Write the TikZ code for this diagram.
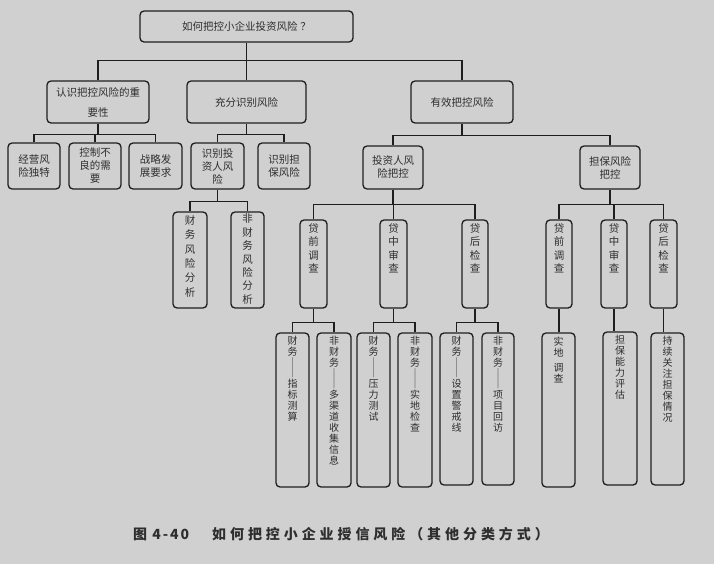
\documentclass[tikz,border=0pt]{standalone}
\usepackage{fontspec}
\setmainfont{Noto Sans CJK SC}
\newfontfamily\capfont[LetterSpace=28]{Noto Sans CJK SC}
\newfontfamily\capnumfont[LetterSpace=14]{Noto Sans CJK SC}
\definecolor{bg}{HTML}{D0D0D0}
\definecolor{ln}{HTML}{1E1E1E}
\definecolor{tx}{HTML}{2E2E2E}
\tikzset{
 box/.style={draw=ln, line width=1.3pt, rounded corners=4pt, inner sep=0pt},
 conn/.style={draw=ln, line width=1.3pt},
 lbl/.style={text=tx, align=center, inner sep=0pt, font=\fontsize{10.5}{13}\selectfont},
 vlbl/.style={text=tx, align=center, inner sep=0pt, font=\fontsize{10.5}{13.4}\selectfont, anchor=north},
 dlbl/.style={text=tx, align=center, inner sep=0pt, font=\fontsize{10}{11}\selectfont, anchor=north},
 captxt/.style={text=tx, inner sep=0pt, anchor=west, font=\capfont\bfseries\fontsize{14}{16}\selectfont},
}
\newcommand\bx[5]{\node[box, minimum width={#4pt-#2pt}, minimum height={#5pt-#3pt}] (#1) at ({(#2+#4)/2},{(#3+#5)/2}) {};}
\newcommand\vdashline{│\\[-1pt]│}
\begin{document}
\begin{tikzpicture}[x=1pt,y=-1pt]
\fill[bg] (0,0) rectangle (714,564);
% boxes
\bx{top}{140}{11}{353}{42}
\bx{a1}{47}{81}{149}{123}
\bx{a2}{187}{81}{306}{123}
\bx{a3}{411}{81}{513}{123}
\bx{b1}{8}{143}{60}{189}
\bx{b2}{69}{143}{121}{189}
\bx{b3}{129}{143}{182}{189}
\bx{b4}{191}{143}{244}{189}
\bx{b5}{258}{143}{310}{189}
\bx{b6}{363}{146}{423}{189}
\bx{b7}{580}{146}{640}{189}
\bx{c1}{173}{212}{207}{308}
\bx{c2}{231}{212}{264}{308}
\bx{c3}{300}{220}{327}{308}
\bx{c4}{380}{220}{407}{308}
\bx{c5}{462}{220}{488}{308}
\bx{c6}{546}{220}{572}{308}
\bx{c7}{601}{220}{627}{308}
\bx{c8}{650}{220}{677}{308}
\bx{d1}{276}{333}{309}{487}
\bx{d2}{317}{333}{351}{487}
\bx{d3}{357}{333}{390}{487}
\bx{d4}{398}{333}{432}{487}
\bx{d5}{440}{333}{473}{485}
\bx{d6}{482}{333}{514}{485}
\bx{d7}{542}{333}{575}{487}
\bx{d8}{603}{332}{637}{485}
\bx{d9}{651}{333}{684}{485}
% texts
\node[lbl] at (top) {如何把控小企业投资风险\hspace{3pt}？};
\node[lbl, font=\fontsize{10.5}{20}\selectfont] at (a1) {认识把控风险的重\\要性};
\node[lbl] at (a2) {充分识别风险};
\node[lbl] at (a3) {有效把控风险};
\node[lbl] at (b1) {经营风\\险独特};
\node[lbl] at (b2) {控制不\\良的需\\要};
\node[lbl] at (b3) {战略发\\展要求};
\node[lbl] at (b4) {识别投\\资人风\\险};
\node[lbl] at (b5) {识别担\\保风险};
\node[lbl] at (b6) {投资人风\\险把控};
\node[lbl] at (b7) {担保风险\\把控};
\node[vlbl, font=\fontsize{10.5}{14.4}\selectfont] at ([yshift=-4pt]c1.north) {财\\务\\风\\险\\分\\析};
\node[vlbl] at ([yshift=-2.5pt]c2.north) {非\\财\\务\\风\\险\\分\\析};
\node[vlbl, font=\fontsize{10.5}{13.3}\selectfont] at ([yshift=-4pt]c3.north) {贷\\前\\调\\查};
\node[vlbl, font=\fontsize{10.5}{13.3}\selectfont] at ([yshift=-4pt]c4.north) {贷\\中\\审\\查};
\node[vlbl, font=\fontsize{10.5}{13.3}\selectfont] at ([yshift=-4pt]c5.north) {贷\\后\\检\\查};
\node[vlbl, font=\fontsize{10.5}{13.3}\selectfont] at ([yshift=-4pt]c6.north) {贷\\前\\调\\查};
\node[vlbl, font=\fontsize{10.5}{13.3}\selectfont] at ([yshift=-4pt]c7.north) {贷\\中\\审\\查};
\node[vlbl, font=\fontsize{10.5}{13.3}\selectfont] at ([yshift=-4pt]c8.north) {贷\\后\\检\\查};
\node[dlbl] at ([yshift=-4pt]d1.north) {财\\务\\\vdashline\\指\\标\\测\\算};
\node[dlbl] at ([yshift=-4pt]d2.north) {非\\财\\务\\\vdashline\\多\\渠\\道\\收\\集\\信\\息};
\node[dlbl] at ([yshift=-4pt]d3.north) {财\\务\\\vdashline\\压\\力\\测\\试};
\node[dlbl] at ([yshift=-4pt]d4.north) {非\\财\\务\\\vdashline\\实\\地\\检\\查};
\node[dlbl] at ([yshift=-4pt]d5.north) {财\\务\\\vdashline\\设\\置\\警\\戒\\线};
\node[dlbl] at ([yshift=-4pt]d6.north) {非\\财\\务\\\vdashline\\项\\目\\回\\访};
\node[dlbl] at ([yshift=-4pt]d7.north) {实\\地\\[4pt]调\\查};
\node[dlbl] at ([yshift=-4pt]d8.north) {担\\保\\能\\力\\评\\估};
\node[dlbl] at ([yshift=-4pt]d9.north) {持\\续\\关\\注\\担\\保\\情\\况};
% connectors
\draw[conn] (top.south) -- (a2.north);
\draw[conn] (a1.north) -- ++(0,-20) -| (a3.north);
\draw[conn] (a1.south) -- ++(0,11) -| (b1.north);
\draw[conn] (a1.south) ++(0,11) -| (b2.north);
\draw[conn] (a1.south) ++(0,11) -| (b3.north);
\draw[conn] (a2.south) -- ++(0,11) -| (b4.north);
\draw[conn] (a2.south) ++(0,11) -| (b5.north);
\draw[conn] (a3.south) -- ++(0,12) -| (b6.north);
\draw[conn] (a3.south) ++(0,12) -| (b7.north);
\draw[conn] (b4.south) -- ++(0,12) -| (c1.north);
\draw[conn] (b4.south) ++(0,12) -| (c2.north);
\draw[conn] (b6.south) -- ++(0,15) -| (c3.north);
\draw[conn] (b6.south) ++(0,15) -| (c4.north);
\draw[conn] (b6.south) ++(0,15) -| (c5.north);
\draw[conn] (b7.south) -- ++(0,15) -| (c6.north);
\draw[conn] (b7.south) ++(0,15) -| (c7.north);
\draw[conn] (b7.south) ++(0,15) -| (c8.north);
\draw[conn] (c3.south) -- ++(0,14) -| (d1.north);
\draw[conn] (c3.south) ++(0,14) -| (d2.north);
\draw[conn] (c4.south) -- ++(0,14) -| (d3.north);
\draw[conn] (c4.south) ++(0,14) -| (d4.north);
\draw[conn] (c5.south) -- ++(0,14) -| (d5.north);
\draw[conn] (c5.south) ++(0,14) -| (d6.north);
\draw[conn] (c6.south) -- (c6.south |- d7.north);
\draw[conn] (c7.south) -- (c7.south |- d8.north);
\draw[conn] (c8.south) -- (c8.south |- d9.north);
% caption
\node[captxt, font=\capnumfont\bfseries\fontsize{14}{16}\selectfont] (capnum) at (133,534) {图 4-40};
\node[captxt] (captext) at (212,534) {如何把控小企业授信风险（其他分类方式）};
\end{tikzpicture}
\end{document}
